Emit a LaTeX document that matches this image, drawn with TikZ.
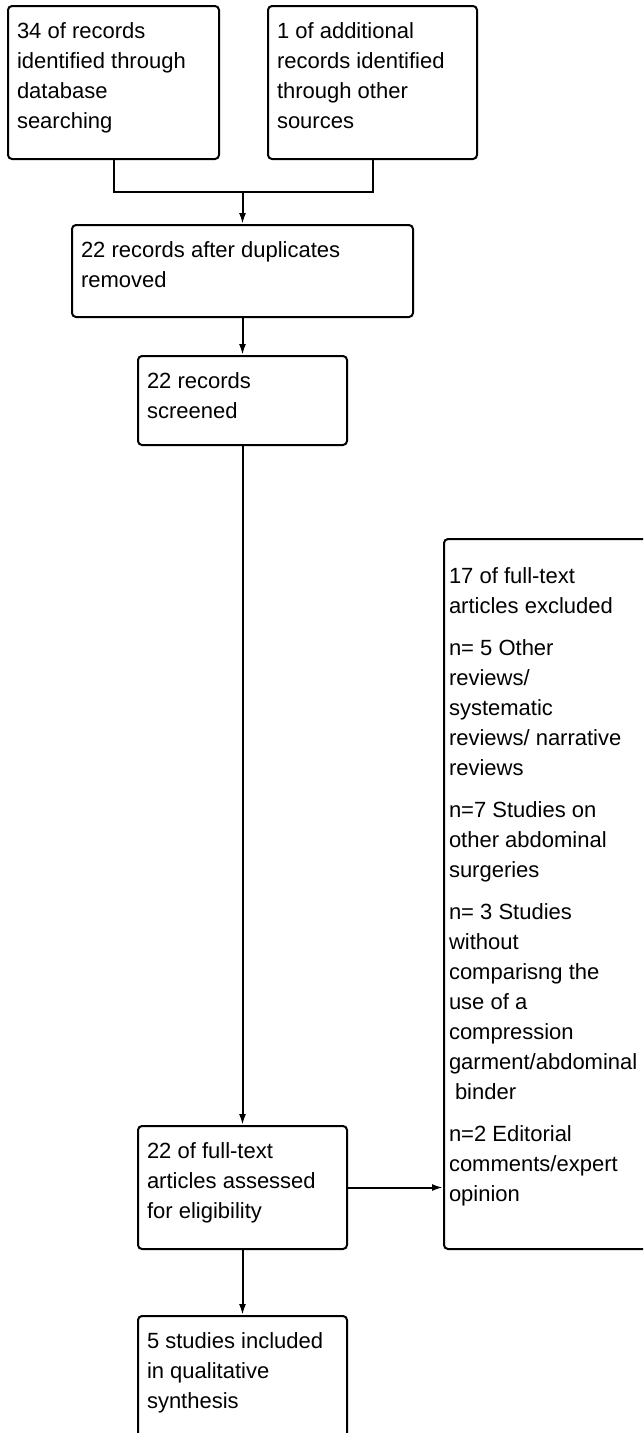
\documentclass[tikz,border=0pt]{standalone}
\usepackage{fontspec}
\setmainfont{Liberation Sans}
\usetikzlibrary{arrows.meta,calc}
\tikzset{
	box/.style    = {draw, line width=2pt, rounded corners=4pt, anchor=north west,
		inner xsep=9pt, inner ysep=11pt, font=\fontsize{22}{30}\selectfont},
	link/.style   = {line width=2pt},
	merge/.style  = {coordinate} % Merge point
}
\newcommand{\boxtext}[3]{\parbox[t][#2][t]{#1}{\raggedright\strut #3}}

\begin{document}
\begin{tikzpicture}[x=1pt, y=-1pt, >={Latex[length=11pt,width=7pt]}]
	\useasboundingbox (0,0) rectangle (643,1433);
	\clip (0,0) rectangle (643,1433);
	\draw
	node at (7,5) [box] (recdb) {\boxtext{193pt}{131pt}{34 of records\\identified through\\database\\searching}}
	node at (267,5) [box] (recother) {\boxtext{191pt}{131pt}{1 of additional\\records identified\\through other\\sources}}
	node at (71,224) [box] (dedup) {\boxtext{323pt}{70pt}{22 records after duplicates\\removed}}
	node at (137,355) [box] (screened) {\boxtext{191pt}{67pt}{22 records\\screened}}
	node at (137,1125) [box] (fulltext) {\boxtext{191pt}{101pt}{22 of full-text\\articles assessed\\for eligibility}}
	node at (443,538) [box, inner xsep=5pt, inner ysep=23pt] (excluded) {\boxtext{220pt}{664pt}{17 of full-text\\articles excluded\\[12pt]
		n= 5 Other\\reviews/\\systematic\\reviews/ narrative\\reviews\\[12pt]
		n=7 Studies on\\other abdominal\\surgeries\\[12pt]
		n= 3 Studies\\without\\comparisng the\\use of a\\compression\\garment/abdominal\\\hspace*{6pt}binder\\[12pt]
		n=2 Editorial\\comments/expert\\opinion}}
	node at (137,1315) [box] (included) {\boxtext{191pt}{138pt}{5 studies included\\in qualitative\\synthesis}};
	\coordinate (join) at ($(dedup.north)+(0,-32)$);

	\draw[link] (recdb.south) |- (join) -| (recother.south);
	\draw[link,->] (join) -- (dedup.north);
	\draw[link,->] (dedup.south) -- (screened.north);
	\draw[link,->] (screened.south) -- (fulltext.north);
	\draw[link,->] (fulltext.east) -- (excluded.west |- fulltext.east);
	\draw[link,->] (fulltext.south) -- (included.north);
\end{tikzpicture}
\end{document}
